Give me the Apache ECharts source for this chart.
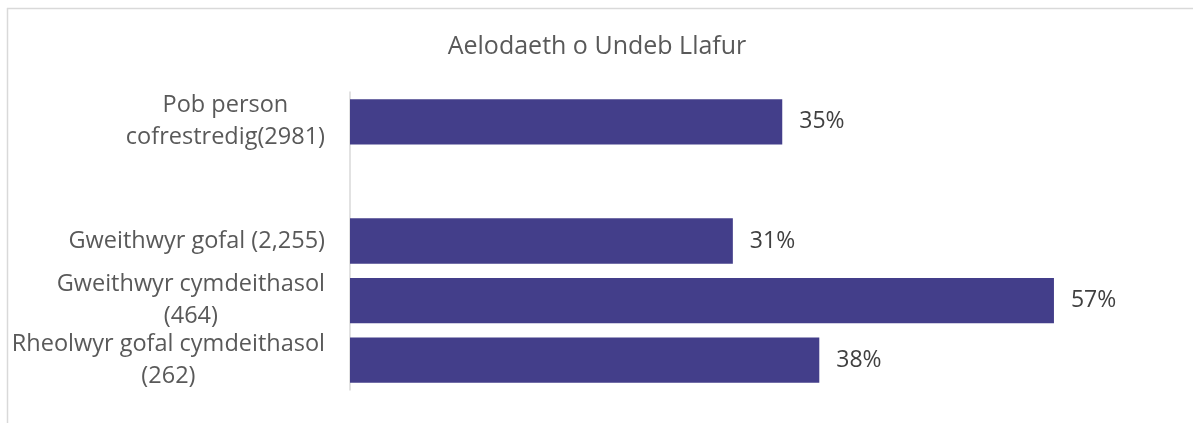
<!DOCTYPE html>
<html>
<head>
<meta charset="utf-8">
<script src="https://cdn.jsdelivr.net/npm/echarts@6/dist/echarts.min.js"></script>
<style>
  html, body { margin: 0; padding: 0; background: #ffffff; }
  #chart { width: 1194px; height: 423px; }
</style>
</head>
<body>
<div id="chart"></div>
<script>
// Union membership by registered group (percent); the blank row separates the total from the groups
const categories = [
  'Pob person\ncofrestredig(2981)',
  '',
  'Gweithwyr gofal (2,255)',
  'Gweithwyr cymdeithasol\n(464)',
  'Rheolwyr gofal cymdeithasol\n(262)'
];
const membership = [35, null, 31, 57, 38];
const titleText = 'Aelodaeth o Undeb Llafur';

const FONT = '"Open Sans", "Noto Sans", sans-serif';
const chart = echarts.init(document.getElementById('chart'), null, { renderer: 'canvas' });

chart.setOption({
  animation: false,
  backgroundColor: '#ffffff',
  title: {
    text: titleText,
    left: 'center',
    top: 29,
    textStyle: { fontFamily: FONT, fontSize: 25, fontWeight: 'normal', color: '#595959' }
  },
  graphic: [
    { type: 'line', shape: { x1: 7, y1: 8.5, x2: 1193, y2: 8.5 }, style: { stroke: '#d9d9d9', lineWidth: 1.5 }, silent: true },
    { type: 'line', shape: { x1: 7.5, y1: 8, x2: 7.5, y2: 423 }, style: { stroke: '#d9d9d9', lineWidth: 1.5 }, silent: true }
  ],
  grid: { left: 350, top: 92, bottom: 33, right: 103, containLabel: false },
  xAxis: {
    type: 'value',
    min: 0,
    max: 60,
    show: false,
    splitLine: { show: false }
  },
  yAxis: {
    type: 'category',
    inverse: true,
    data: categories,
    axisLine: { show: true, lineStyle: { color: '#d9d9d9', width: 1.5 } },
    axisTick: { show: false },
    axisLabel: {
      margin: 25,
      align: 'right',
      formatter: function (v) {
        if (!v) return '';
        return v.split('\n').map(function (s) { return '{c|' + s + '}'; }).join('\n');
      },
      rich: {
        c: { align: 'center', fontFamily: FONT, fontSize: 23.5, color: '#595959', lineHeight: 32 }
      }
    }
  },
  series: [{
    type: 'bar',
    data: membership,
    barWidth: '76%',
    itemStyle: { color: '#433e8a' },
    label: {
      show: true,
      position: 'right',
      distance: 17,
      formatter: '{c}%',
      fontFamily: FONT,
      fontSize: 23,
      color: '#404040'
    }
  }]
});
</script>
</body>
</html>
